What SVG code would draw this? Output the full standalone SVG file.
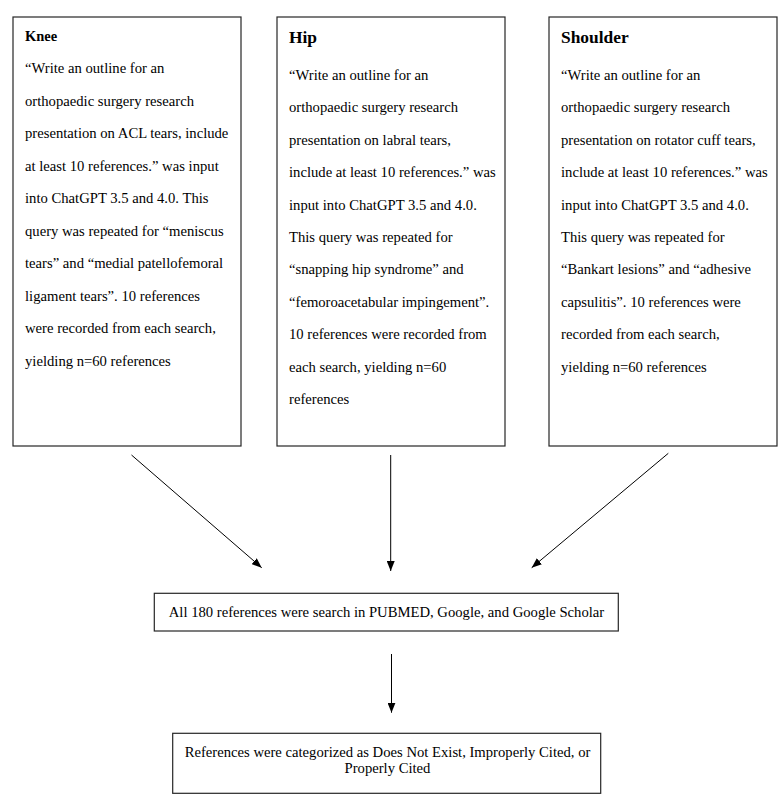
<svg xmlns="http://www.w3.org/2000/svg" width="782" height="797" viewBox="0 0 782 797">
<style>
.box{fill:#fff;stroke:#262626;stroke-width:1.2}
.t{font-family:"Liberation Serif","Times New Roman",serif;font-size:14.67px;fill:#000}
.h{font-family:"Liberation Serif","Times New Roman",serif;font-weight:bold;fill:#000}
.c{text-anchor:middle}
.conn{stroke:#000;stroke-width:1;fill:none;marker-end:url(#ah)}
</style>
<defs>
<marker id="ah" markerUnits="userSpaceOnUse" markerWidth="11" markerHeight="8" refX="10" refY="4" orient="auto">
<path d="M0,0 L10,4 L0,8 z" fill="#000"/>
</marker>
</defs>
<rect width="782" height="797" fill="#fff"/>
<g id="knee">
<rect class="box" x="13" y="17" width="228" height="429"/>
<text class="h" x="25" y="41" font-size="14.5">Knee</text>
<text class="t" x="25" y="73.3">“Write an outline for an</text>
<text class="t" x="25" y="105.8">orthopaedic surgery research</text>
<text class="t" x="25" y="138.3">presentation on ACL tears, include</text>
<text class="t" x="25" y="170.8">at least 10 references.” was input</text>
<text class="t" x="25" y="203.3">into ChatGPT 3.5 and 4.0. This</text>
<text class="t" x="25" y="235.8">query was repeated for “meniscus</text>
<text class="t" x="25" y="268.3">tears” and “medial patellofemoral</text>
<text class="t" x="25" y="300.8">ligament tears”. 10 references</text>
<text class="t" x="25" y="333.3">were recorded from each search,</text>
<text class="t" x="25" y="365.8">yielding n=60 references</text>
</g>
<g id="hip">
<rect class="box" x="277" y="17" width="228" height="429"/>
<text class="h" x="289" y="43.3" font-size="17.4">Hip</text>
<text class="t" x="289" y="80">“Write an outline for an</text>
<text class="t" x="289" y="112.4">orthopaedic surgery research</text>
<text class="t" x="289" y="144.8">presentation on labral tears,</text>
<text class="t" x="289" y="177.2">include at least 10 references.” was</text>
<text class="t" x="289" y="209.6">input into ChatGPT 3.5 and 4.0.</text>
<text class="t" x="289" y="242">This query was repeated for</text>
<text class="t" x="289" y="274.4">“snapping hip syndrome” and</text>
<text class="t" x="289" y="306.8">“femoroacetabular impingement”.</text>
<text class="t" x="289" y="339.2">10 references were recorded from</text>
<text class="t" x="289" y="371.6">each search, yielding n=60</text>
<text class="t" x="289" y="404">references</text>
</g>
<g id="shoulder">
<rect class="box" x="549" y="17" width="228" height="429"/>
<text class="h" x="561" y="43.3" font-size="17.4">Shoulder</text>
<text class="t" x="561" y="80">“Write an outline for an</text>
<text class="t" x="561" y="112.4">orthopaedic surgery research</text>
<text class="t" x="561" y="144.8">presentation on rotator cuff tears,</text>
<text class="t" x="561" y="177.2">include at least 10 references.” was</text>
<text class="t" x="561" y="209.6">input into ChatGPT 3.5 and 4.0.</text>
<text class="t" x="561" y="242">This query was repeated for</text>
<text class="t" x="561" y="274.4">“Bankart lesions” and “adhesive</text>
<text class="t" x="561" y="306.8">capsulitis”. 10 references were</text>
<text class="t" x="561" y="339.2">recorded from each search,</text>
<text class="t" x="561" y="371.6">yielding n=60 references</text>
</g>
<g id="search">
<rect class="box" x="154.3" y="593.3" width="464" height="37.7"/>
<text class="t c" x="386.5" y="616.7">All 180 references were search in PUBMED, Google, and Google Scholar</text>
</g>
<g id="categorize">
<rect class="box" x="172.7" y="733.3" width="428" height="60"/>
<text class="t c" x="387.5" y="756.7">References were categorized as Does Not Exist, Improperly Cited, or</text>
<text class="t c" x="387.5" y="772.7">Properly Cited</text>
</g>
<g id="connectors">
<line class="conn" x1="131.5" y1="455" x2="261.7" y2="567.7"/>
<line class="conn" x1="390.7" y1="455" x2="390.7" y2="571"/>
<line class="conn" x1="668.3" y1="453.3" x2="531.7" y2="567.7"/>
<line class="conn" x1="391.5" y1="654" x2="391.5" y2="712.7"/>
</g>
</svg>
